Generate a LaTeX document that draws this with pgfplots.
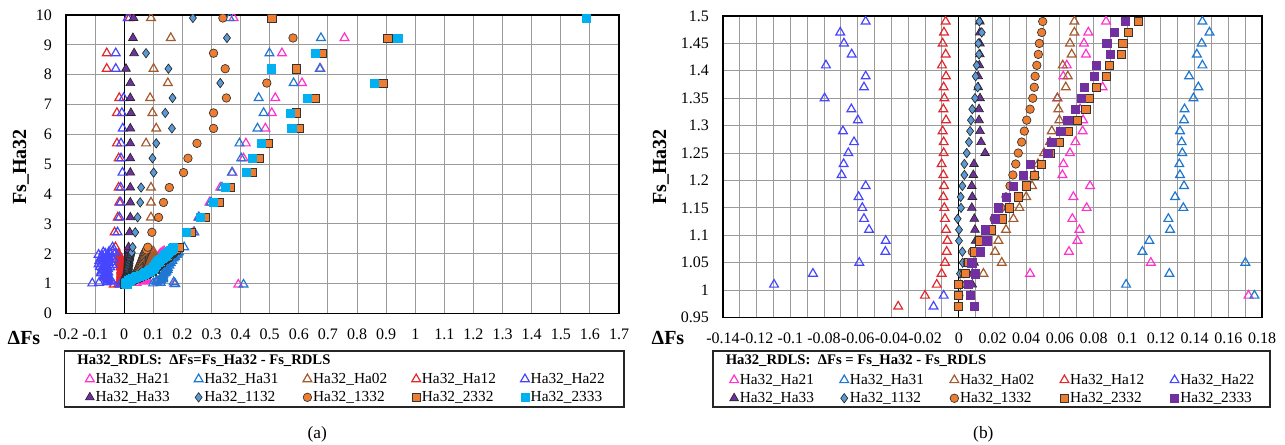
\documentclass[border=0pt]{standalone}
\usepackage{fontspec}
\setmainfont{Liberation Serif}
\usepackage{pgfplots}
\usepackage{pgfplotstable}
\pgfplotsset{compat=1.18}

\definecolor{cMag}{RGB}{255,51,204}
\definecolor{cBlu}{RGB}{30,120,210}
\definecolor{cBrn}{RGB}{165,90,45}
\definecolor{cRed}{RGB}{225,40,45}
\definecolor{cVio}{RGB}{70,70,255}
\definecolor{cPur}{RGB}{112,48,160}
\definecolor{cDia}{RGB}{91,155,213}
\definecolor{cOra}{RGB}{237,125,49}
\definecolor{cCya}{RGB}{0,176,240}
\definecolor{cGrid}{RGB}{155,155,155}

% Ha32_Ha21
\pgfplotstableread{
x y
0.392 0.97
0.172 0.99
0.0423 1.03
0.114 1.05
0.0654 1.07
0.0704 1.09
0.0716 1.11
0.0674 1.13
0.0759 1.15
0.068 1.17
0.0779 1.19
0.0615 1.21
0.0621 1.23
0.066 1.25
0.0692 1.27
0.0735 1.29
0.0738 1.31
0.072 1.33
0.0585 1.35
0.0854 1.37
0.062 1.39
0.0641 1.41
0.0755 1.43
0.0743 1.45
0.0769 1.47
0.0874 1.49
0.085 1.53
0.092 1.57
0.082 1.61
0.097 1.65
0.101 1.69
0.093 1.73
0.106 1.77
0.111 1.81
0.102 1.85
0.116 1.89
0.104 1.93
0.121 1.97
0.126 2.01
0.131 2.05
0.137 2.09
0.238 2.72
0.255 3.22
0.293 3.72
0.330 4.22
0.372 4.72
0.410 5.2
0.418 5.7
0.485 6.2
0.507 6.72
0.519 7.22
0.611 7.72
0.674 8.2
0.542 8.72
0.757 9.23
0.376 9.9
}\dHaa

% Ha32_Ha31
\pgfplotstableread{
x y
0.41 0.97
0.1755 0.99
0.0993 1.01
0.125 1.03
0.1701 1.05
0.109 1.07
0.1131 1.09
0.1254 1.11
0.1244 1.13
0.1333 1.15
0.1284 1.17
0.1337 1.19
0.1313 1.21
0.1309 1.23
0.1327 1.25
0.1323 1.27
0.1313 1.29
0.1337 1.31
0.1340 1.33
0.1393 1.35
0.1422 1.37
0.1367 1.39
0.1446 1.41
0.1413 1.43
0.1442 1.45
0.1488 1.47
0.1446 1.49
0.150 1.53
0.146 1.57
0.155 1.61
0.152 1.65
0.160 1.69
0.157 1.73
0.165 1.77
0.163 1.81
0.170 1.85
0.175 1.89
0.172 1.93
0.180 1.97
0.184 2.01
0.188 2.05
0.206 2.22
0.241 2.72
0.257 3.22
0.298 3.72
0.336 4.22
0.370 4.72
0.402 5.2
0.396 5.7
0.458 6.2
0.479 6.72
0.462 7.22
0.582 7.72
0.672 8.2
0.499 8.72
0.676 9.23
0.362 9.9
}\dHab

% Ha32_Ha02
\pgfplotstableread{
x y
0.0146 1.03
0.0255 1.05
0.0215 1.07
0.0235 1.09
0.028 1.11
0.0324 1.13
0.036 1.15
0.040 1.17
0.0435 1.19
0.045 1.21
0.047 1.23
0.0506 1.25
0.0541 1.27
0.0552 1.29
0.0597 1.31
0.0591 1.33
0.0585 1.35
0.0635 1.37
0.0647 1.39
0.0617 1.41
0.067 1.43
0.066 1.45
0.0686 1.47
0.0686 1.49
0.070 1.53
0.073 1.57
0.075 1.61
0.074 1.65
0.079 1.69
0.080 1.73
0.083 1.77
0.085 1.81
0.084 1.85
0.089 1.89
0.090 1.93
0.093 1.97
0.095 2.01
0.098 2.05
0.100 2.09
0.092 3.22
0.092 3.72
0.092 4.22
0.075 5.7
0.110 6.2
0.097 6.72
0.089 7.22
0.150 7.72
0.101 8.2
0.160 9.23
0.092 9.9
}\dHac

% Ha32_Ha12
\pgfplotstableread{
x y
-0.036 0.97
-0.0201 0.99
-0.0131 1.01
-0.0102 1.03
-0.0082 1.05
-0.0072 1.07
-0.0068 1.09
-0.0076 1.11
-0.0082 1.13
-0.0086 1.15
-0.0092 1.17
-0.0088 1.19
-0.0092 1.21
-0.0102 1.23
-0.0090 1.25
-0.0090 1.27
-0.0096 1.29
-0.0076 1.31
-0.0092 1.33
-0.0086 1.35
-0.0090 1.37
-0.0076 1.39
-0.0100 1.41
-0.0078 1.43
-0.0096 1.45
-0.0088 1.47
-0.0078 1.49
-0.009 1.53
-0.011 1.57
-0.010 1.61
-0.012 1.65
-0.013 1.69
-0.012 1.73
-0.014 1.77
-0.015 1.81
-0.014 1.85
-0.016 1.89
-0.017 1.93
-0.018 1.97
-0.020 2.01
-0.030 2.22
-0.033 2.72
-0.022 3.22
-0.017 3.72
-0.019 4.22
-0.019 5.2
-0.025 5.7
-0.025 6.72
-0.017 7.22
-0.060 8.2
-0.060 8.72
0.018 9.9
}\dHad

% Ha32_Ha22
\pgfplotstableread{
x y
-0.015 0.97
-0.009 0.99
-0.1097 1.01
-0.0866 1.03
-0.0591 1.05
-0.0436 1.07
-0.0434 1.09
-0.0533 1.11
-0.0563 1.13
-0.0573 1.15
-0.0595 1.17
-0.0553 1.19
-0.0696 1.21
-0.0684 1.23
-0.0656 1.25
-0.0622 1.27
-0.0688 1.29
-0.0599 1.31
-0.0638 1.33
-0.0797 1.35
-0.0563 1.37
-0.0553 1.39
-0.0789 1.41
-0.0636 1.43
-0.0682 1.45
-0.0704 1.47
-0.0553 1.49
-0.062 1.51
-0.075 1.53
-0.048 1.55
-0.083 1.57
-0.058 1.59
-0.070 1.61
-0.040 1.63
-0.088 1.65
-0.065 1.67
-0.052 1.69
-0.078 1.71
-0.045 1.73
-0.068 1.75
-0.085 1.77
-0.056 1.79
-0.035 1.81
-0.072 1.83
-0.050 1.85
-0.080 1.87
-0.062 1.89
-0.042 1.91
-0.075 1.93
-0.055 1.95
-0.088 1.97
-0.048 1.99
-0.065 2.01
-0.030 2.03
-0.072 2.05
-0.052 2.07
-0.040 2.09
-0.040 2.22
-0.023 2.72
-0.016 3.22
-0.012 3.72
-0.012 4.22
-0.006 4.72
-0.011 5.2
-0.011 5.7
-0.005 6.2
-0.008 6.72
-0.002 7.22
-0.029 8.2
-0.029 8.72
0.012 9.9
}\dHae

% Ha32_Ha33
\pgfplotstableread{
x y
0.007 0.99
0.008 1.01
0.008 1.03
0.009 1.05
0.010 1.07
0.010 1.09
0.0096 1.11
0.0092 1.13
0.0077 1.15
0.008 1.17
0.0077 1.19
0.0086 1.21
0.009 1.23
0.0156 1.25
0.0132 1.27
0.0126 1.29
0.012 1.31
0.012 1.33
0.0126 1.35
0.0115 1.37
0.0115 1.39
0.0122 1.41
0.0125 1.43
0.0125 1.45
0.0125 1.47
0.0125 1.49
0.013 1.53
0.0135 1.57
0.013 1.61
0.014 1.65
0.0145 1.69
0.014 1.73
0.015 1.77
0.0145 1.81
0.015 1.85
0.0155 1.89
0.015 1.93
0.016 1.97
0.016 2.01
0.0165 2.05
0.017 2.09
0.017 2.13
0.015 2.22
0.019 2.72
0.021 3.22
0.021 3.72
0.021 4.22
0.021 4.72
0.021 5.2
0.021 5.7
0.021 6.2
0.023 6.72
0.021 7.22
0.021 7.72
0.006 8.2
0.034 8.72
0.030 9.23
0.032 9.9
}\dHaf

% Ha32_1132
\pgfplotstableread{
x y
0.0 0.99
0.001 1.01
0.0007 1.03
0.0023 1.05
0.0021 1.07
0.0001 1.09
0.0001 1.11
-0.0007 1.13
0.0013 1.15
0.0011 1.17
0.0021 1.19
0.0033 1.21
0.0033 1.23
0.0047 1.25
0.006 1.27
0.0067 1.29
0.0072 1.31
0.008 1.33
0.0096 1.35
0.0112 1.37
0.0100 1.39
0.0106 1.41
0.012 1.43
0.0116 1.45
0.0136 1.47
0.0122 1.49
0.013 1.53
0.0145 1.57
0.0148 1.61
0.0165 1.65
0.017 1.69
0.0182 1.73
0.019 1.77
0.0205 1.81
0.021 1.85
0.0218 1.89
0.023 1.93
0.0235 1.97
0.0248 2.01
0.026 2.05
0.029 2.22
0.038 2.72
0.046 3.22
0.055 3.72
0.058 4.22
0.101 4.72
0.097 5.2
0.110 5.7
0.164 6.2
0.141 6.72
0.166 7.22
0.330 7.72
0.152 8.2
0.075 8.72
0.353 9.23
0.236 9.9
}\dHag

% Ha32_1332
\pgfplotstableread{
x y
0.0 0.99
0.001 1.01
0.003 1.03
0.005 1.05
0.008 1.07
0.0116 1.09
0.016 1.11
0.021 1.13
0.025 1.15
0.028 1.17
0.0304 1.19
0.0321 1.21
0.0338 1.23
0.0353 1.25
0.0373 1.27
0.0389 1.29
0.0403 1.31
0.0423 1.33
0.0439 1.35
0.0448 1.37
0.0453 1.39
0.0463 1.41
0.0472 1.43
0.0478 1.45
0.0492 1.47
0.0498 1.49
0.051 1.53
0.053 1.57
0.055 1.61
0.056 1.65
0.058 1.69
0.060 1.73
0.061 1.77
0.063 1.81
0.064 1.85
0.066 1.89
0.067 1.93
0.069 1.97
0.071 2.01
0.073 2.05
0.075 2.09
0.077 2.13
0.081 2.22
0.095 2.72
0.118 3.22
0.135 3.72
0.155 4.22
0.204 4.72
0.219 5.2
0.250 5.7
0.307 6.2
0.307 6.72
0.351 7.22
0.490 7.72
0.347 8.2
0.307 8.72
0.580 9.23
0.339 9.9
}\dHah

% Ha32_2332
\pgfplotstableread{
x y
-0.0003 0.97
-0.0003 0.99
-0.0003 1.01
0.0037 1.03
0.006 1.05
0.009 1.07
0.0124 1.09
0.019 1.11
0.0255 1.13
0.030 1.15
0.0354 1.17
0.0399 1.19
0.0449 1.21
0.0492 1.23
0.0542 1.25
0.0595 1.27
0.0647 1.29
0.0704 1.31
0.0754 1.33
0.0776 1.35
0.0815 1.37
0.0875 1.39
0.0894 1.41
0.0963 1.43
0.0973 1.45
0.1007 1.47
0.1066 1.49
0.108 1.53
0.111 1.57
0.114 1.61
0.117 1.65
0.121 1.69
0.126 1.73
0.131 1.77
0.136 1.81
0.141 1.85
0.146 1.89
0.151 1.93
0.156 1.97
0.160 2.01
0.165 2.05
0.170 2.09
0.175 2.13
0.180 2.17
0.190 2.22
0.229 2.72
0.278 3.22
0.328 3.72
0.364 4.22
0.441 4.72
0.465 5.2
0.496 5.7
0.602 6.2
0.591 6.72
0.656 7.22
0.889 7.72
0.591 8.2
0.679 8.72
0.906 9.23
0.507 9.9
}\dHai

% Ha32_2333
\pgfplotstableread{
x y
0.009 0.97
0.0066 0.99
0.0055 1.01
0.0096 1.03
0.0077 1.05
0.0127 1.07
0.0166 1.09
0.0155 1.11
0.0215 1.13
0.0235 1.15
0.028 1.17
0.0324 1.19
0.0383 1.21
0.0423 1.23
0.0528 1.25
0.0552 1.27
0.0605 1.29
0.0647 1.31
0.069 1.33
0.0726 1.35
0.0745 1.37
0.0805 1.39
0.0815 1.41
0.0898 1.43
0.0878 1.45
0.0923 1.47
0.0987 1.49
0.100 1.53
0.103 1.57
0.106 1.61
0.108 1.65
0.111 1.69
0.115 1.73
0.120 1.77
0.125 1.81
0.130 1.85
0.134 1.89
0.139 1.93
0.143 1.97
0.147 2.01
0.151 2.05
0.155 2.09
0.160 2.13
0.165 2.17
0.169 2.22
0.213 2.72
0.261 3.22
0.307 3.72
0.347 4.22
0.419 4.72
0.439 5.2
0.471 5.7
0.576 6.2
0.570 6.72
0.630 7.22
0.860 7.72
0.504 8.2
0.656 8.72
0.940 9.23
1.587 9.9
}\dHaj

\pgfplotsset{
  lgd/.style={legend image code/.code={\draw[##1] plot coordinates {(0pt,0pt)};}},
  sOpen/.style={only marks, mark=triangle, mark size=3.8pt,
    mark options={draw=#1, line width=0.9pt}, lgd},
  sTri/.style={only marks, mark=triangle*, mark size=3.8pt,
    mark options={draw=black!85, fill=cPur, line width=0.5pt}, lgd},
  sDia/.style={only marks, mark=diamond*, mark size=3.5pt,
    mark options={draw=black!85, fill=cDia, line width=0.5pt}, lgd},
  sCir/.style={only marks, mark=*, mark size=3.2pt,
    mark options={draw=black!80, fill=cOra, line width=0.5pt}, lgd},
  sSqu/.style={only marks, mark=square*, mark size=3.1pt,
    mark options={draw=black!80, fill=cOra, line width=0.5pt}, lgd},
  sFill/.style={only marks, mark=square*, mark size=3.1pt,
    mark options={draw=#1, fill=#1, line width=0.4pt}, lgd},
  panel/.style={
    scale only axis, clip marker paths=true,
    scaled ticks=false,
    axis line style={black, line width=0.9pt},
    major tick length=0pt, minor tick length=0pt,
    grid style={cGrid, line width=0.75pt},
    ticklabel style={font=\fontsize{12}{14}\selectfont},
    /pgf/number format/fixed, /pgf/number format/precision=2,
    /pgf/number format/assume math mode=true,
    xticklabel style={yshift=-8pt}, yticklabel style={xshift=-7pt},
    extra x ticks={0}, extra x tick labels={},
    extra x tick style={grid=major, major grid style={black, line width=1pt}},
    legend columns=5, legend cell align=left,
    legend style={draw=none, fill=none, anchor=north west,
      font=\fontsize{11.5}{13.5}\selectfont, column sep=0pt, row sep=1.5pt,
      nodes={inner xsep=1pt, inner ysep=1.5pt}},
  },
}
\newcommand{\ent}[1]{\makebox[73pt][l]{#1}}

\begin{document}
\begin{tikzpicture}
\path[use as bounding box] (0,0) rectangle (963.75pt,-333.75pt);

% (a) full range
\begin{axis}[panel,
  at={(49.5pt,-235.125pt)}, anchor=south west,
  width=414.75pt, height=223.875pt,
  xmin=-0.2, xmax=1.7, ymin=0, ymax=10,
  xtick={-0.2,-0.1,0,0.1,0.2,0.3,0.4,0.5,0.6,0.7,0.8,0.9,1,1.1,1.2,1.3,1.4,1.5,1.6,1.7},
  xticklabels={-0.2,-0.1,0,0.1,0.2,0.3,0.4,0.5,0.6,0.7,0.8,0.9,1,1.1,1.2,1.3,1.4,1.5,1.6,1.7},
  ytick={0,1,2,3,4,5,6,7,8,9,10},
  yticklabels={0,1,2,3,4,5,6,7,8,9,10},
  grid=major,
  legend style={at={(axis description cs:0.0275,-0.183)}},
]
\addplot[sOpen=cMag] table {\dHaa}; \addlegendentry{\ent{Ha32\_Ha21}}
\addplot[sOpen=cBlu] table {\dHab}; \addlegendentry{\ent{Ha32\_Ha31}}
\addplot[sOpen=cBrn] table {\dHac}; \addlegendentry{\ent{Ha32\_Ha02}}
\addplot[sOpen=cRed] table {\dHad}; \addlegendentry{\ent{Ha32\_Ha12}}
\addplot[sOpen=cVio] table {\dHae}; \addlegendentry{\ent{Ha32\_Ha22}}
\addplot[sTri] table {\dHaf}; \addlegendentry{\ent{Ha32\_Ha33}}
\addplot[sDia] table {\dHag}; \addlegendentry{\ent{Ha32\_1132}}
\addplot[sCir] table {\dHah}; \addlegendentry{\ent{Ha32\_1332}}
\addplot[sSqu] table {\dHai}; \addlegendentry{\ent{Ha32\_2332}}
\addplot[sFill=cCya] table {\dHaj}; \addlegendentry{\ent{Ha32\_2333}}
\end{axis}

% (b) zoom near Fs = 1
\begin{axis}[panel,
  at={(542.25pt,-238.125pt)}, anchor=south west,
  width=404.25pt, height=226.125pt,
  xmin=-0.14, xmax=0.18, ymin=0.95, ymax=1.5,
  xtick={-0.14,-0.12,-0.1,-0.08,-0.06,-0.04,-0.02,0,0.02,0.04,0.06,0.08,0.1,0.12,0.14,0.16,0.18},
  xticklabels={-0.14,-0.12,-0.1,-0.08,-0.06,-0.04,-0.02,0,0.02,0.04,0.06,0.08,0.1,0.12,0.14,0.16,0.18},
  minor xtick={-0.13,-0.11,-0.09,-0.07,-0.05,-0.03,-0.01,0.01,0.03,0.05,0.07,0.09,0.11,0.13,0.15,0.17},
  ytick={0.95,1,1.05,1.1,1.15,1.2,1.25,1.3,1.35,1.4,1.45,1.5},
  yticklabels={0.95,1,1.05,1.1,1.15,1.2,1.25,1.3,1.35,1.4,1.45,1.5},
  grid=both, minor grid style={cGrid, line width=0.75pt},
  legend style={at={(axis description cs:0.0046,-0.171)}},
]
\addplot[sOpen=cMag] table {\dHaa}; \addlegendentry{\makebox[74pt][l]{Ha32\_Ha21}}
\addplot[sOpen=cBlu] table {\dHab}; \addlegendentry{\makebox[74pt][l]{Ha32\_Ha31}}
\addplot[sOpen=cBrn] table {\dHac}; \addlegendentry{\makebox[74pt][l]{Ha32\_Ha02}}
\addplot[sOpen=cRed] table {\dHad}; \addlegendentry{\makebox[74pt][l]{Ha32\_Ha12}}
\addplot[sOpen=cVio] table {\dHae}; \addlegendentry{\makebox[74pt][l]{Ha32\_Ha22}}
\addplot[sTri] table {\dHaf}; \addlegendentry{\makebox[74pt][l]{Ha32\_Ha33}}
\addplot[sDia] table {\dHag}; \addlegendentry{\makebox[74pt][l]{Ha32\_1132}}
\addplot[sCir] table {\dHah}; \addlegendentry{\makebox[74pt][l]{Ha32\_1332}}
\addplot[sSqu] table {\dHai}; \addlegendentry{\makebox[74pt][l]{Ha32\_2332}}
\addplot[sFill=cPur] table {\dHaj}; \addlegendentry{\makebox[74pt][l]{Ha32\_2333}}
\end{axis}

% axis titles, legend frames and panel captions
\node[rotate=90, font=\fontsize{15}{18}\selectfont\bfseries] at (15.75pt,-125.25pt) {Fs\_Ha32};
\node[rotate=90, font=\fontsize{15}{18}\selectfont\bfseries] at (495.75pt,-125.25pt) {Fs\_Ha32};
\node[font=\fontsize{15}{18}\selectfont\bfseries] at (18pt,-253.5pt) {ΔFs};
\node[font=\fontsize{15}{18}\selectfont\bfseries] at (501pt,-253.5pt) {ΔFs};

\draw[black!85, line width=0.9pt] (48.3pt,-263.25pt) rectangle (468pt,-305.25pt);
\draw[black!85, line width=0.9pt] (534.75pt,-263.25pt) rectangle (952.5pt,-305.25pt);
\node[anchor=west, font=\fontsize{11}{13}\selectfont\bfseries] at (54.5pt,-270.5pt) {Ha32\_RDLS:\ \ ΔFs=Fs\_Ha32 - Fs\_RDLS};
\node[anchor=west, font=\fontsize{11}{13}\selectfont\bfseries] at (540.8pt,-270.5pt) {Ha32\_RDLS:\ \ ΔFs = Fs\_Ha32 - Fs\_RDLS};

\node[font=\fontsize{13}{15}\selectfont] at (238pt,-325.5pt) {(a)};
\node[font=\fontsize{13}{15}\selectfont] at (737.5pt,-325.5pt) {(b)};
\end{tikzpicture}
\end{document}
